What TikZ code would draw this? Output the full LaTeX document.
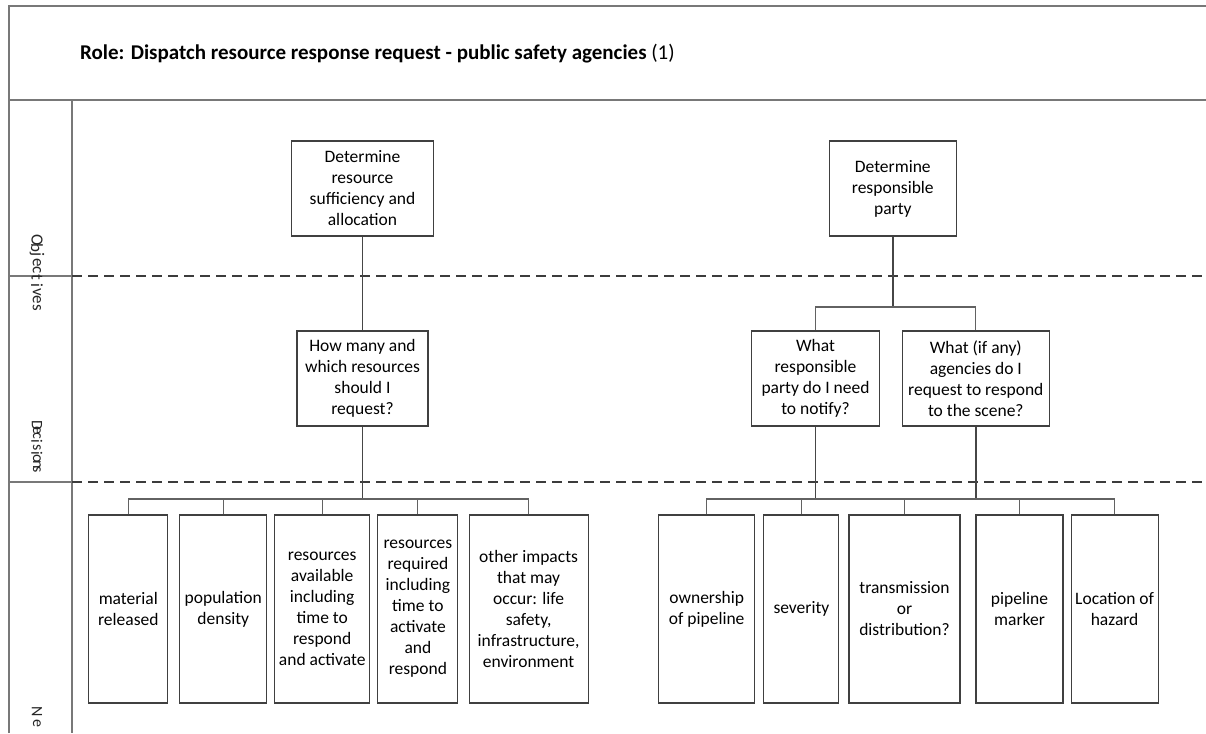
\documentclass[tikz,border=0pt]{standalone}
\usepackage{fontspec}
\setmainfont{Carlito}
\definecolor{framegray}{RGB}{120,120,120}
\definecolor{boxgray}{RGB}{64,64,64}
\definecolor{linegray}{RGB}{70,70,70}
\definecolor{dashgray}{RGB}{60,60,60}
\begin{document}
\begin{tikzpicture}[x=1pt,y=-1pt,
  frame/.style={draw=framegray, line width=1.3pt},
  box/.style={draw=boxgray, line width=1.1pt, align=center, inner sep=0pt,
    font=\fontsize{17.5}{21}\selectfont},
  leaf/.style={box, minimum height=188pt},
  trunk/.style={draw=linegray, line width=1.8pt},
  branch/.style={draw=linegray!85, line width=1.1pt},
  lanesep/.style={draw=dashgray, line width=1.3pt, dash pattern=on 10pt off 6pt},
  lanechar/.style={rotate=-90, inner sep=0pt, text=black!85},
]
\useasboundingbox (0,0) rectangle (1206,733);
\fill[white] (0,0) rectangle (1206,733);

% swimlane frame
\draw[frame] (9,733) -- (9,6) -- (1206,6);
\draw[frame] (9,100) -- (1206,100);
\draw[frame] (72,100) -- (72,733);
\draw[frame] (9,276) -- (72,276);
\draw[frame] (9,482) -- (72,482);
\draw[lanesep] (72,276) -- (1206,276);
\draw[lanesep] (72,482) -- (1206,482);

% heading
\node[anchor=base west, inner sep=0pt, font=\fontsize{21}{25}\selectfont] (title) at (80,60)
  {\textbf{Role: Dispatch resource response request - public safety agencies} (1)};

% lane labels, set letter by letter down the lane column
\foreach \ch [count=\i] in {O,b,j,e,c,t,i,v,e,s}
  \node[lanechar, font=\fontsize{17}{17}\selectfont] (laneA\i) at (37,{240+7.5*(\i-1)}) {\ch};
\foreach \ch [count=\i] in {D,e,c,i,s,i,o,n,s}
  \node[lanechar, font=\fontsize{16}{16}\selectfont] (laneB\i) at (37,{425+5.6*(\i-1)}) {\ch};
\foreach \ch [count=\i] in {N,e}
  \node[lanechar, font=\fontsize{16}{16}\selectfont] (laneC\i) at (37,{712+11*(\i-1)}) {\ch};

% left tree
\node[box, minimum width=142pt, minimum height=95pt] (goalL) at (362.5,188.5)
  {Determine\\resource\\sufficiency and\\allocation};
\node[box, minimum width=131pt, minimum height=95pt] (askL) at (362.5,378.5)
  {How many and\\which resources\\should I\\request?};

\node[leaf, minimum width=79pt]  (l1) at (128.3,609) {material\\released};
\node[leaf, minimum width=87pt]  (l2) at (223.3,609) {population\\density};
\node[leaf, minimum width=95pt]  (l3) at (322.2,609) {resources\\available\\including\\time to\\respond\\and activate};
\node[leaf, minimum width=80pt]  (l4) at (417.9,609) {resources\\required\\including\\time to\\activate\\and\\respond};
\node[leaf, minimum width=119pt] (l5) at (528.6,609) {other impacts\\that may\\occur: life\\safety,\\infrastructure,\\environment};

% right tree
\node[box, minimum width=127pt, minimum height=95pt] (goalR) at (892.8,188.5)
  {Determine\\responsible\\party};
\node[box, minimum width=128pt, minimum height=95pt] (askR1) at (815.5,378.5)
  {What\\responsible\\party do I need\\to notify?};
\node[box, minimum width=147pt, minimum height=95pt] (askR2) at (975.8,378.5)
  {What (if any)\\agencies do I\\request to respond\\to the scene?};

\node[leaf, minimum width=96pt]  (r1) at (706.7,609) {ownership\\of pipeline};
\node[leaf, minimum width=75pt]  (r2) at (801.4,609) {severity};
\node[leaf, minimum width=111pt] (r3) at (904.5,609) {transmission\\or\\distribution?};
\node[leaf, minimum width=87pt]  (r4) at (1019.5,609) {pipeline\\marker};
\node[leaf, minimum width=87pt]  (r5) at (1114.6,609) {Location of\\hazard};

% connectors: left tree
\coordinate (busL) at (362.5,499);
\draw[trunk] (goalL.south) -- (askL.north);
\draw[trunk] (askL.south) -- (busL);
\foreach \n in {l1,l2,l3,l4,l5}
  \draw[branch] (\n.north) |- (busL);

% connectors: right tree
\coordinate (busR) at (892.8,307);
\coordinate (busB) at (815.5,499);
\draw[trunk] (goalR.south) -- (busR);
\draw[branch] (askR1.north) |- (busR);
\draw[branch] (askR2.north) |- (busR);
\draw[trunk] (askR1.south) -- (busB);
\draw[trunk] (askR2.south) |- (busB);
\foreach \n in {r1,r2,r3,r4,r5}
  \draw[branch] (\n.north) |- (busB);
\end{tikzpicture}
\end{document}
